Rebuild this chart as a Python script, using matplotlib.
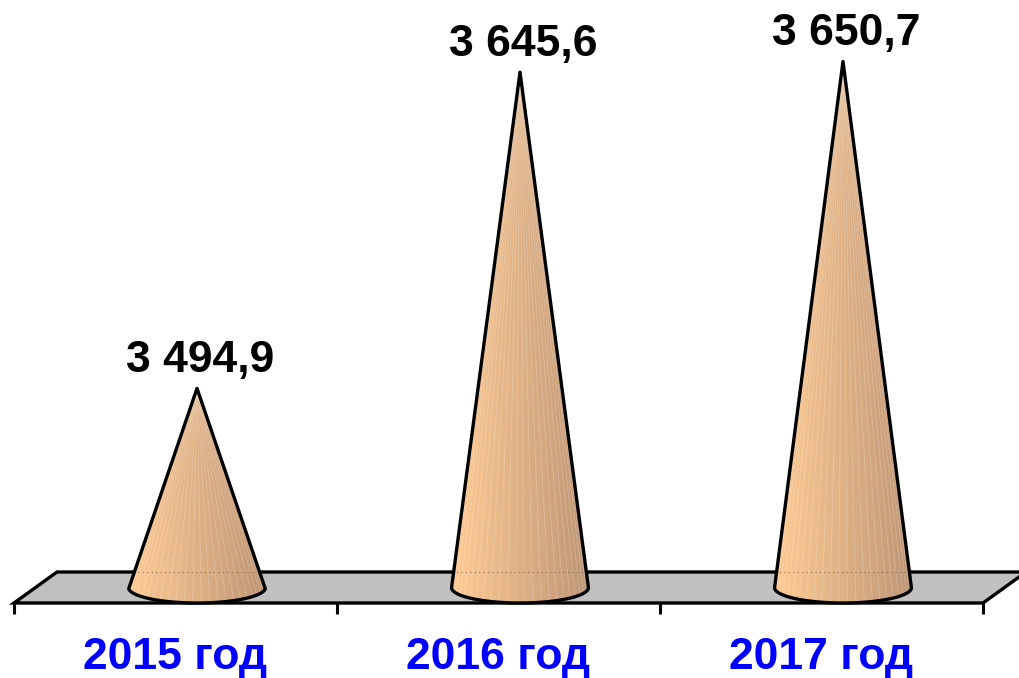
import matplotlib
matplotlib.use('Agg')
import matplotlib.pyplot as plt
import numpy as np
from matplotlib.patches import Polygon

# данные
years = ['2015 год', '2016 год', '2017 год']
values = [3494.9, 3645.6, 3650.7]
labels = ['3 494,9', '3 645,6', '3 650,7']
y_min, y_max = 3400, 3680

plt.rcParams['font.family'] = ['Liberation Sans', 'DejaVu Sans']

fig = plt.figure(figsize=(10.19, 6.78), dpi=100)
ppu = 587.5 / (y_max - y_min)           # пикселей на единицу по y
y_low = y_min - 40
ax = fig.add_axes([35.5 / 1019, (90.5 - 40 * ppu) / 678, 969 / 1019, (587.5 + 40 * ppu) / 678])
ax.set_xlim(-0.5, len(years) - 0.5)
ax.set_ylim(y_low, y_max)
ax.axis('off')

# перевод пикселей в единицы осей
px_x = len(years) / 969.0
px_y = 1 / ppu
dx, dy = 21.5 * px_x, 15.5 * px_y      # половина глубины "пола"
a = 68.5 * px_x                          # полуось основания конуса
b = dy

# пол
x0, x1 = -0.5, len(years) - 0.5
floor = Polygon([(x0 - dx, y_min - dy), (x1 - dx, y_min - dy),
                 (x1 + dx, y_min + dy), (x0 + dx, y_min + dy)],
                closed=True, facecolor='#c0c0c0', edgecolor='black', lw=2.4,
                joinstyle='miter', clip_on=False, zorder=1)
ax.add_patch(floor)
for i in range(len(years) + 1):
    xt = -0.5 + i - dx
    ax.plot([xt, xt], [y_min - dy, y_min - dy - 11 * px_y], color='black',
            lw=2.2, clip_on=False, zorder=1, solid_capstyle='butt')

# градиент для конусов
grad = np.linspace(0, 1, 256)
c_left = np.array([255, 203, 148]) / 255
c_right = np.array([190, 150, 118]) / 255
img = (c_left[None, :] * (1 - grad[:, None]) + c_right[None, :] * grad[:, None])[None, :, :]

for i, v in enumerate(values):
    H = v - y_min
    yt = b * b / H
    th0 = np.arcsin(yt / b)
    th = np.linspace(th0, np.pi - th0, 100)
    # нижняя дуга основания, справа налево
    arc_x = i + a * np.cos(-th)
    arc_y = y_min + b * np.sin(-th)
    pts = [(i, v)] + list(zip(arc_x, arc_y)) + [(i, v)]
    cone = Polygon(pts, closed=True, facecolor='none', edgecolor='black',
                   lw=2.4, joinstyle='round', zorder=4, clip_on=False)
    ax.add_patch(cone)
    im = ax.imshow(img, extent=[i - a, i + a, y_min - b, v], aspect='auto',
                   zorder=3, interpolation='bilinear')
    im.set_clip_path(cone)
    # грани конуса
    for t in np.linspace(0.08, 0.92, 22):
        ang = np.pi * (1 - t)
        fl, = ax.plot([i, i + a * np.cos(ang)], [v, y_min - b * np.sin(ang)],
                      color='white', lw=0.6, alpha=0.22, zorder=3.2)
        fl.set_clip_path(cone)
    # линия заднего края пола сквозь конус
    ln, = ax.plot([i - a, i + a], [y_min + dy, y_min + dy], ls=(0, (1, 3)),
                  color='#8a6a50', lw=0.8, zorder=3.5)
    ln.set_clip_path(cone)

    ax.annotate(labels[i], (i, v), xytext=(3, 16), textcoords='offset pixels',
                ha='center', va='baseline', fontsize=32, fontweight='bold',
                color='black', annotation_clip=False, zorder=5)
    ax.annotate(years[i], (i - dx, y_min - dy), xytext=(0, -55),
                textcoords='offset pixels', ha='center', va='center',
                fontsize=32, fontweight='bold', color='#0000ff',
                annotation_clip=False, zorder=5)

ax.set_xlim(-0.5, len(years) - 0.5)
ax.set_ylim(y_low, y_max)

fig.savefig('out.png', dpi=100)
